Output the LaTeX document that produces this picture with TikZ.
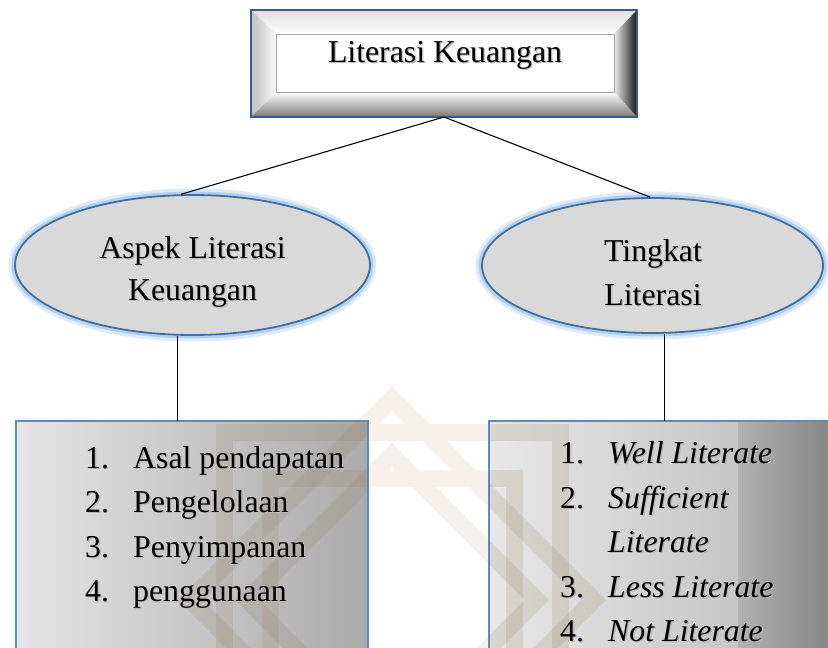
\documentclass[tikz,border=0pt]{standalone}
\usepackage{fontspec}
\setmainfont{Liberation Serif}
\usetikzlibrary{shapes.geometric}
\definecolor{glowc}{RGB}{150,192,232}
\definecolor{elfill}{RGB}{217,217,217}
\definecolor{elbord}{RGB}{65,113,156}
\definecolor{boxbord}{RGB}{95,138,185}
\definecolor{topbord}{RGB}{62,92,128}
\definecolor{wmlight}{RGB}{246,242,235}
\definecolor{wmdark}{RGB}{150,132,100}
\newcommand{\shd}[1]{\makebox[0pt][l]{\hspace{1.3pt}\raisebox{-1.3pt}{\textcolor{black!28}{#1}}}#1}
\begin{document}
\begin{tikzpicture}[x=1pt,y=-1pt,
  txt/.style={font=\fontsize{31.8pt}{38pt}\selectfont, inner sep=0pt, anchor=base west},
  ctxt/.style={font=\fontsize{31.8pt}{38pt}\selectfont, inner sep=0pt, anchor=base},
  ell/.style={ellipse, inner sep=0pt},
  conn/.style={draw=black, line width=1.1pt},
  wm/.style={line width=17pt, line join=miter},
  blank/.style={inner sep=0pt, outer sep=0pt}]
\useasboundingbox (0,0) rectangle (828,648);
\clip (0,0) rectangle (828,648);
\fill[white] (0,0) rectangle (828,648);
% watermark
\draw[wm, wmlight] (224,432) rectangle (560,768);
\draw[wm, wmlight] (392,398) -- (594,600) -- (392,802) -- (190,600) -- cycle;
\draw[wm, wmlight] (270,478) rectangle (514,722);
\draw[wm, wmlight] (392,455) -- (537,600) -- (392,745) -- (247,600) -- cycle;
% bottom boxes
\node[blank, minimum width=352, minimum height=240] (LB) at (192,541) {};
\node[blank, minimum width=352, minimum height=240] (RB) at (665,541) {};
\shade[left color={rgb,255:red,229;green,229;blue,229}, right color={rgb,255:red,170;green,170;blue,170}] (LB.north west) rectangle (LB.south east);
\shade[left color={rgb,255:red,232;green,232;blue,232}, right color={rgb,255:red,198;green,198;blue,198}] (RB.north west) rectangle ([xshift=249]RB.south west);
\shade[left color={rgb,255:red,178;green,178;blue,178}, right color={rgb,255:red,128;green,128;blue,128}] ([xshift=249]RB.north west) rectangle (RB.south east);
\begin{scope}
  \clip (LB.north west) rectangle (LB.south east) (RB.north west) rectangle (RB.south east);
  \draw[wm, wmdark, opacity=0.18] (224,432) rectangle (560,768);
  \draw[wm, wmdark, opacity=0.18] (392,398) -- (594,600) -- (392,802) -- (190,600) -- cycle;
  \draw[wm, wmdark, opacity=0.18] (270,478) rectangle (514,722);
  \draw[wm, wmdark, opacity=0.18] (392,455) -- (537,600) -- (392,745) -- (247,600) -- cycle;
\end{scope}
\draw[boxbord, line width=2] (LB.north west) rectangle (LB.south east);
\draw[boxbord, line width=2] (RB.north west) rectangle (RB.south east);
% left list
\node[txt] (ln1) at (85,468) {\shd{1.}};
\node[txt] (lt1) at (133,468) {\shd{Asal pendapatan}};
\node[txt] (ln2) at (85,512) {\shd{2.}};
\node[txt] (lt2) at (133,512) {\shd{Pengelolaan}};
\node[txt] (ln3) at (85,557) {\shd{3.}};
\node[txt] (lt3) at (133,557) {\shd{Penyimpanan}};
\node[txt] (ln4) at (85,601) {\shd{4.}};
\node[txt] (lt4) at (133,601) {\shd{penggunaan}};
% right list
\node[txt] (rn1) at (560,463) {\shd{1.}};
\node[txt] (rt1) at (608,463) {\itshape\shd{Well Literate}};
\node[txt] (rn2) at (560,508) {\shd{2.}};
\node[txt] (rt2) at (608,508) {\itshape\shd{Sufficient}};
\node[txt] (rt2b) at (608,552) {\itshape\shd{Literate}};
\node[txt] (rn3) at (560,597) {\shd{3.}};
\node[txt] (rt3) at (608,597) {\itshape\shd{Less Literate}};
\node[txt] (rn4) at (560,641) {\shd{4.}};
\node[txt] (rt4) at (608,641) {\itshape\shd{Not Literate}};
% top beveled box
\node[blank, minimum width=386, minimum height=107] (T) at (444,63.5) {};
\shade[top color={rgb,255:red,222;green,222;blue,222}, bottom color=white] (251,10) -- (637,10) -- (614,34) -- (276,34) -- cycle;
\shade[left color={rgb,255:red,190;green,190;blue,190}, right color={rgb,255:red,248;green,248;blue,248}] (251,10) -- (276,34) -- (276,92) -- (251,117) -- cycle;
\shade[left color={rgb,255:red,240;green,240;blue,240}, right color={rgb,255:red,20;green,20;blue,20}] (637,10) -- (637,117) -- (614,92) -- (614,34) -- cycle;
\shade[top color=white, bottom color={rgb,255:red,120;green,120;blue,120}] (251,117) -- (276,92) -- (614,92) -- (637,117) -- cycle;
\draw[topbord, line width=2] (T.north west) rectangle (T.south east);
\node[blank, draw=gray!70, fill=white, line width=0.6, minimum width=338, minimum height=58] (Ti) at (445,63) {};
\node[ctxt] (Tt) at (445,62) {\shd{Literasi Keuangan}};
% ellipses
\draw[glowc, line width=13, opacity=0.3] (192.5,265) ellipse [x radius=177.5, y radius=70];
\draw[glowc, line width=7, opacity=0.6] (192.5,265) ellipse [x radius=177.5, y radius=70];
\draw[glowc, line width=13, opacity=0.3] (652.5,265.5) ellipse [x radius=170.5, y radius=67.5];
\draw[glowc, line width=7, opacity=0.6] (652.5,265.5) ellipse [x radius=170.5, y radius=67.5];
\node[ell, draw=elbord, fill=elfill, line width=1.8, minimum width=355, minimum height=140] (L) at (192.5,265) {};
\node[ell, draw=elbord, fill=elfill, line width=1.8, minimum width=341, minimum height=135] (R) at (652.5,265.5) {};
\node[ctxt] (L1) at (192.5,258) {\shd{Aspek Literasi}};
\node[ctxt] (L2) at (192.5,300) {\shd{Keuangan}};
\node[ctxt] (R1) at (653,261) {\shd{Tingkat}};
\node[ctxt] (R2) at (653,305) {\shd{Literasi}};
% connectors
\draw[conn] (T.south) -- (L.99);
\draw[conn] (T.south) -- (R.92);
\draw[conn] (L.258) -- (L.258 |- LB.north);
\draw[conn] (R.280) -- (R.280 |- RB.north);
\end{tikzpicture}
\end{document}
